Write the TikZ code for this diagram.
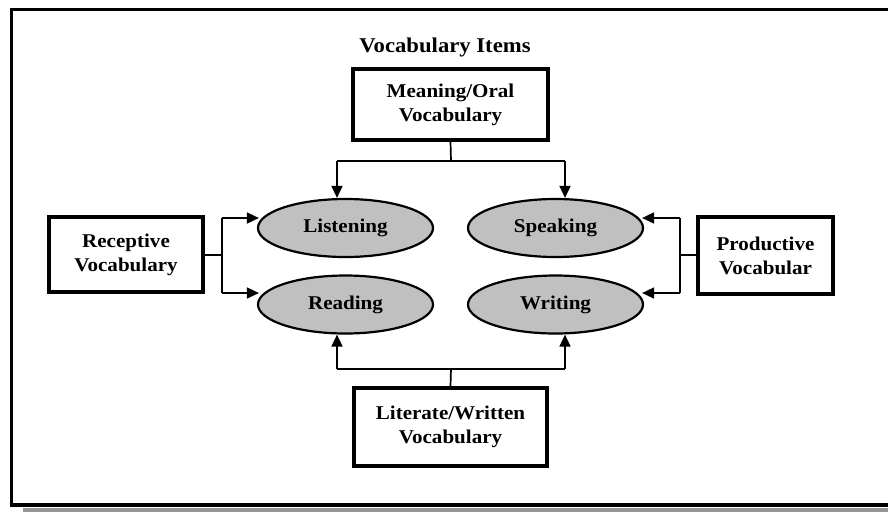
\documentclass[tikz,border=0pt]{standalone}
\usepackage{fontspec}
\setmainfont{Liberation Serif}[FakeStretch=1.08]
\usetikzlibrary{shapes.geometric,arrows.meta}
\definecolor{ellgray}{RGB}{192,192,192}
\definecolor{shadowgray}{RGB}{150,150,150}
\tikzset{
  vbox/.style={draw=black, line width=3.2pt, fill=white, align=center, font=\fontsize{19.5}{24}\selectfont\bfseries, inner sep=0pt},
  skill/.style={ellipse, draw=black, line width=2.2pt, fill=ellgray, minimum width=175pt, minimum height=58pt, inner sep=0pt, font=\fontsize{19.5}{24}\selectfont\bfseries},
  conn/.style={line width=1.7pt},
  arr/.style={conn, -{Triangle[length=12pt,width=11pt]}},
}
\begin{document}
\begin{tikzpicture}[x=1pt,y=-1pt]
\useasboundingbox (0,0) rectangle (888,512);
% frame with shadow
\fill[shadowgray] (23,507.5) rectangle (888,512);
\draw[line width=3.5pt] (888,9.5) -- (11.5,9.5) -- (11.5,505) -- (888,505);
% title
\node[font=\fontsize{21}{25}\selectfont\bfseries] (title) at (445,47) {Vocabulary Items};
% boxes
\node[vbox, minimum width=195pt, minimum height=71pt] (mo) at (450.5,104.5) {Meaning/Oral\\Vocabulary};
\node[vbox, minimum width=154pt, minimum height=75pt] (rv) at (126,254.5) {Receptive\\Vocabulary};
\node[vbox, minimum width=135pt, minimum height=77pt] (pv) at (765.5,255.5) {Productive\\Vocabular};
\node[vbox, minimum width=193pt, minimum height=78pt] (lw) at (450.5,427) {Literate/Written\\Vocabulary};
% ellipses
\node[skill] (L) at (345.5,228) {Listening};
\node[skill] (S) at (555.5,228) {Speaking};
\node[skill] (R) at (345.5,304.5) {Reading};
\node[skill] (W) at (555.5,304.5) {Writing};
% top connectors
\coordinate (tj) at (451,161);
\coordinate (tl) at (337,161);
\coordinate (tr) at (565,161);
\draw[conn] (mo.south) -- (tj);
\draw[conn] (tl) -- (tr);
\draw[arr] (tl) -- (tl |- L.north);
\draw[arr] (tr) -- (tr |- S.north);
% bottom connectors
\coordinate (bj) at (451,369);
\coordinate (bl) at (337,369);
\coordinate (br) at (565,369);
\draw[conn] (lw.north) -- (bj);
\draw[conn] (bl) -- (br);
\draw[arr] (bl) -- (bl |- R.south);
\draw[arr] (br) -- (br |- W.south);
% left connectors
\coordinate (lj) at (222,255);
\coordinate (lt) at (222,218);
\coordinate (lb) at (222,293);
\draw[conn] (rv.east |- lj) -- (lj);
\draw[conn] (lt) -- (lb);
\draw[arr] (lt) -- ([xshift=2pt]lt -| L.west);
\draw[arr] (lb) -- ([xshift=2pt]lb -| R.west);
% right connectors
\coordinate (rj) at (680,255);
\coordinate (rt) at (680,218);
\coordinate (rb) at (680,293);
\draw[conn] (pv.west |- rj) -- (rj);
\draw[conn] (rt) -- (rb);
\draw[arr] (rt) -- ([xshift=-2pt]rt -| S.east);
\draw[arr] (rb) -- ([xshift=-2pt]rb -| W.east);
\end{tikzpicture}
\end{document}
